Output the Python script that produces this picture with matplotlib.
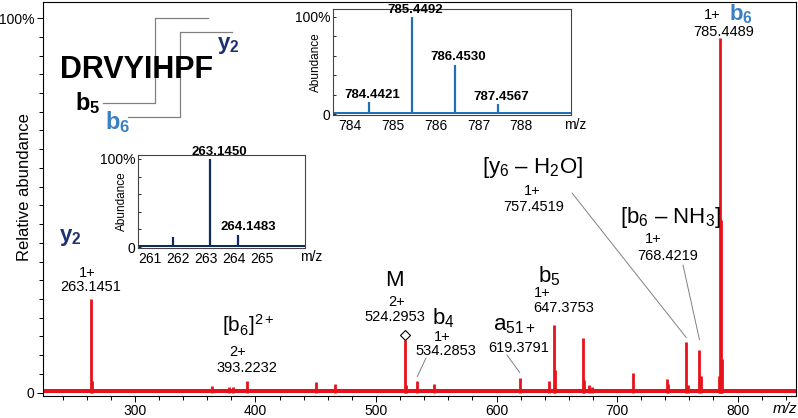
import matplotlib
matplotlib.use("Agg")
import matplotlib.pyplot as plt
from matplotlib.lines import Line2D
import numpy as np

plt.rcParams['font.family'] = ['Liberation Sans', 'DejaVu Sans']
plt.rcParams['mathtext.fontset'] = 'custom'
plt.rcParams['mathtext.rm'] = 'Liberation Sans'
plt.rcParams['mathtext.it'] = 'Liberation Sans:italic'
plt.rcParams['mathtext.bf'] = 'Liberation Sans:bold'

W, H = 798, 418
RED = '#e8121a'
BLUE = '#1f70b8'
NAVY = '#0e2a5e'
LABEL_BLUE = '#3a80c2'
LABEL_NAVY = '#1b3170'
GREY = '#808080'

# main spectrum: m/z and relative abundance (%)
main_mz = [263.1451, 264.15, 364.2, 378.2, 381.2, 393.2232, 450.2, 466.3,
           524.2953, 525.3, 534.2853, 548.3, 619.3791, 643.4, 647.3753, 648.4,
           671.4, 672.9, 676.4, 679.4, 713.4, 741.4, 742.4, 757.4519, 758.5,
           768.4219, 769.4, 784.4421, 785.4489, 786.4530, 787.4567]
main_int = [25.0, 3.0, 1.8, 1.4, 1.5, 3.2, 2.8, 2.4,
            14.0, 2.0, 3.0, 2.2, 4.0, 3.2, 18.0, 6.0,
            14.6, 3.5, 2.0, 1.5, 5.2, 3.6, 2.2, 13.4, 2.0,
            11.3, 4.5, 4.5, 94.8, 46.0, 9.0]
main_xticks = [300, 400, 500, 600, 700, 800]

# isotope cluster of b6 (inset, top)
b6_mz = [784.4421, 785.4492, 786.4530, 787.4567, 788.32]
b6_int = [12, 100, 51, 10, 2]
b6_labels = ['784.4421', '785.4492', '786.4530', '787.4567', '']
b6_xticks = [784, 785, 786, 787, 788]

# isotope cluster of y2 (inset, left)
y2_mz = [261.82, 263.1450, 264.1483]
y2_int = [11, 100, 14]
y2_labels = ['', '263.1450', '264.1483']
y2_xticks = [261, 262, 263, 264, 265]


def fx(x, y):
    return x / W, 1 - y / H


def T(x, y, s, **kw):
    kw.setdefault('ha', 'center')
    kw.setdefault('va', 'center')
    fig.text(x / W, 1 - y / H, s, **kw)


fig = plt.figure(figsize=(W / 100, H / 100), dpi=100)

# ---- main axes
ax = fig.add_axes([43 / W, 1 - 396 / H, 753 / W, 394 / H])
ax.set_xlim(223.7, 848.5)
ax.set_ylim(-0.9, 104.3)
ax.fill_between([223.7, 848.5], 0, 1.0, color=RED, lw=0)
ax.vlines(main_mz, 0, main_int, color=RED, lw=2.0)
ax.plot([524.2953], [15.4], marker='D', ms=5.5, mfc='white', mec='black', mew=0.8)

ax.set_xticks(main_xticks)
ax.set_xticks(np.arange(240, 848, 20), minor=True)
ax.set_yticks([0, 100])
ax.set_yticklabels(['0', '100%'])
ax.set_yticks(np.arange(5, 100, 5), minor=True)
ax.tick_params(which='both', direction='out', labelsize=10, pad=2, width=0.7)
ax.tick_params(which='major', length=4)
ax.tick_params(which='minor', length=3)
ax.tick_params(axis='x', pad=1.5, labelsize=10)
for sp in ax.spines.values():
    sp.set_linewidth(0.8)
ax.set_ylabel('Relative abundance', fontsize=12)
ax.yaxis.set_label_coords(-0.015, 0.53)
T(785, 409, 'm/z', fontsize=11, style='italic')

# peptide sequence and fragment brackets
fig.text(60 / W, 1 - 78 / H, 'DRVYIHPF', fontsize=22, fontweight='bold', ha='left', va='baseline')
T(228, 46, r'$\mathbf{y_2}$', fontsize=16, color=LABEL_NAVY)
T(88, 103, r'$\mathbf{b_5}$', fontsize=17, color='black')
T(118, 122, r'$\mathbf{b_6}$', fontsize=17, color=LABEL_BLUE)
for xs, ys in [([103, 155, 155, 208], [103, 103, 18, 18]),
               ([128, 180, 180, 232], [117, 117, 32, 32])]:
    fig.add_artist(Line2D([x / W for x in xs], [1 - y / H for y in ys],
                          transform=fig.transFigure, color=GREY, lw=0.9))

# peak annotations
T(70, 238, r'$\mathbf{y_2}$', fontsize=16, color=LABEL_NAVY)
T(87, 273, '1+', fontsize=10.5)
T(91, 287, '263.1451', fontsize=10.5)
T(248, 325, r'[b$_6$]$^{2+}$', fontsize=15)
T(238, 352, '2+', fontsize=10.5)
T(247, 368, '393.2232', fontsize=10.5)
T(394, 280, 'M', fontsize=16)
T(397, 302, '2+', fontsize=10.5)
T(395, 317, '524.2953', fontsize=10.5)
T(443, 318, r'b$_4$', fontsize=16)
T(442, 337, '1+', fontsize=10.5)
T(446, 351, '534.2853', fontsize=10.5)
T(493, 325, r'a$_{51+}$', fontsize=16, ha='left')
T(519, 348, '619.3791', fontsize=10.5)
T(549, 276, r'b$_5$', fontsize=16)
T(542, 293, '1+', fontsize=10.5)
T(564, 308, '647.3753', fontsize=10.5)
T(532, 167, r'[y$_6$ – H$_2$O]', fontsize=16)
T(532, 191, '1+', fontsize=10.5)
T(534, 207, '757.4519', fontsize=10.5)
T(670, 217, r'[b$_6$ – NH$_3$]', fontsize=16)
T(653, 239, '1+', fontsize=10.5)
T(668, 256, '768.4219', fontsize=10.5)
T(712, 15, '1+', fontsize=10.5)
T(741, 14, r'$\mathbf{b_6}$', fontsize=16, color=LABEL_BLUE)
T(724, 32, '785.4489', fontsize=10.5)

leaders = [((426, 358), 534.2853, 4.3), ((507, 355), 619.3791, 5.3),
           ((572, 193), 757.4519, 14.7), ((683, 265), 768.4219, 14.1)]
for start, mz, yy in leaders:
    ax.annotate('', xy=(mz, yy), xycoords='data', xytext=fx(*start),
                textcoords='figure fraction',
                arrowprops=dict(arrowstyle='-', color=GREY, lw=0.7, shrinkA=0, shrinkB=0))


def inset(rect, mz, inten, labels, ticks, xlim, ylim, color, lab_dx, mz_pos, label_x):
    a = fig.add_axes(rect)
    a.set_xlim(*xlim)
    a.set_ylim(*ylim)
    a.fill_between(xlim, 0, 2.5, color=color, lw=0)
    a.vlines(mz, 0, inten, color=color, lw=1.6)
    for m, v, s in zip(mz, inten, labels):
        if s:
            a.annotate(s, (m, v), xytext=(lab_dx, 1), textcoords='offset points',
                       ha='center', va='bottom', fontsize=9.5, fontweight='bold')
    a.set_xticks(ticks)
    a.set_yticks([0, 100])
    a.set_yticklabels(['0', '100%'])
    a.set_yticks([20, 40, 60, 80], minor=True)
    a.tick_params(which='both', direction='in', length=2, width=0.6, labelsize=10, pad=2)
    a.tick_params(axis='x', length=0, pad=3)
    for sp in a.spines.values():
        sp.set_linewidth(0.8)
        sp.set_color('#444444')
    a.set_ylabel('Abundance', fontsize=8.5)
    a.yaxis.set_label_coords(label_x, 0.5)
    T(*mz_pos, 'm/z', fontsize=10)
    return a


inset([333 / W, 1 - 115 / H, 238 / W, 106 / H], b6_mz, b6_int, b6_labels, b6_xticks,
      (783.6, 789.16), (-1, 108.2), BLUE, 2, (575, 125), -0.045)
inset([138 / W, 1 - 248 / H, 167 / W, 93 / H], y2_mz, y2_int, y2_labels, y2_xticks,
      (260.57, 266.54), (-1.1, 104.5), NAVY, 7, (311, 257), -0.06)

fig.savefig('out.png', dpi=100)
